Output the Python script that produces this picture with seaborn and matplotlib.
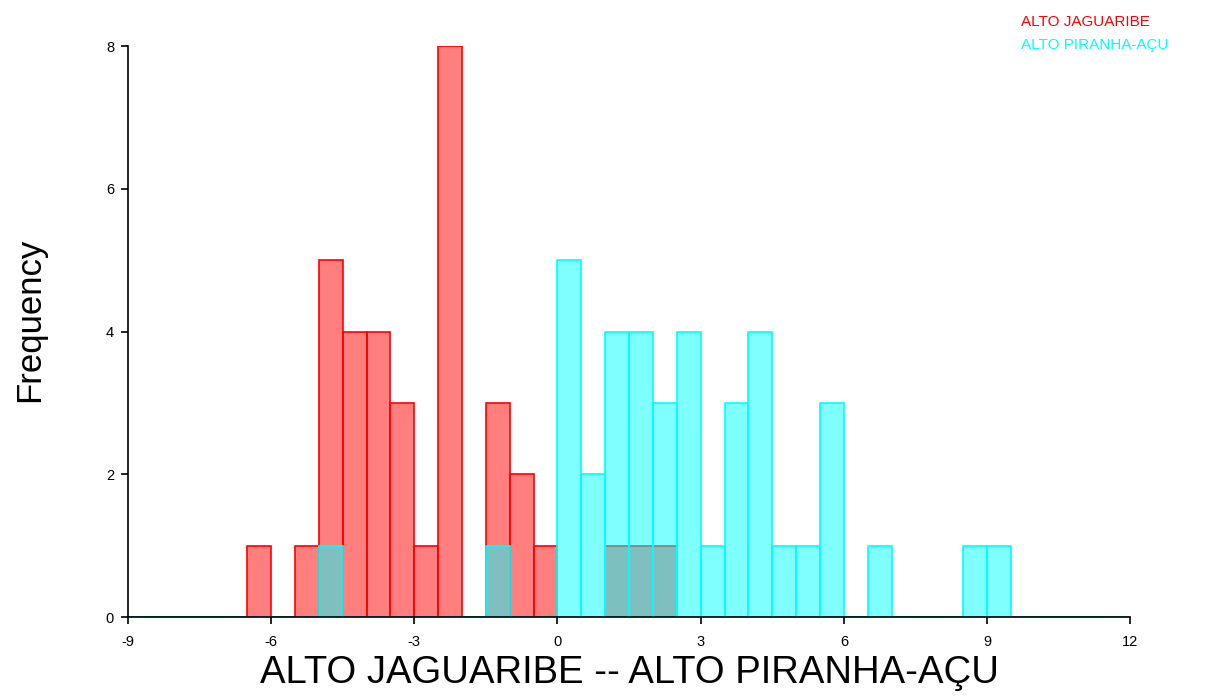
import numpy as np
import pandas as pd
import matplotlib
matplotlib.use("Agg")
import matplotlib.pyplot as plt
import seaborn as sns

# Histogram bins (width 0.5) and counts per group, keyed by bin left edge
bin_width = 0.5
bin_range = (-9.0, 12.0)

jaguaribe_left = [-6.5, -5.5, -5.0, -4.5, -4.0, -3.5, -3.0, -2.5, -1.5, -1.0, -0.5, 1.0, 1.5, 2.0]
jaguaribe_count = [1, 1, 5, 4, 4, 3, 1, 8, 3, 2, 1, 1, 1, 1]

piranha_left = [-5.0, -1.5, 0.0, 0.5, 1.0, 1.5, 2.0, 2.5, 3.0, 3.5, 4.0, 4.5, 5.0, 5.5, 6.5, 8.5, 9.0]
piranha_count = [1, 1, 5, 2, 4, 4, 3, 4, 1, 3, 4, 1, 1, 3, 1, 1, 1]

group_names = ["ALTO JAGUARIBE", "ALTO PIRANHA-AÇU"]
group_colors = ["#ff0000", "#00ffff"]
x_ticks = [-9, -6, -3, 0, 3, 6, 9, 12]
y_ticks = [0, 2, 4, 6, 8]

sns.set_style("white")
plt.rcParams["font.family"] = ["Liberation Sans", "DejaVu Sans"]
plt.rcParams["axes.unicode_minus"] = False
plt.rcParams["text.color"] = "black"
plt.rcParams["axes.labelcolor"] = "black"
plt.rcParams["xtick.color"] = "black"
plt.rcParams["ytick.color"] = "black"

fig = plt.figure(figsize=(12.18, 6.98), dpi=100)
ax = fig.add_axes([0.105, 0.116, 0.823, 0.818])

for lefts, counts, color in [(jaguaribe_left, jaguaribe_count, group_colors[0]),
                             (piranha_left, piranha_count, group_colors[1])]:
    df = pd.DataFrame({"value": np.asarray(lefts, dtype=float) + bin_width / 2,
                       "count": np.asarray(counts, dtype=float)})
    sns.histplot(data=df, x="value", weights="count", binwidth=bin_width,
                 binrange=bin_range, ax=ax,
                 color=color, alpha=0.5, edgecolor=color, linewidth=1.2)

ax.set_xlim(-9, 12)
ax.set_ylim(0, 8)
ax.set_xticks(x_ticks)
ax.set_yticks(y_ticks)
ax.tick_params(axis="both", direction="out", length=5, width=1.2,
               labelsize=10.5, bottom=True, left=True)
ax.tick_params(axis="x", pad=8)
ax.tick_params(axis="y", pad=5)
for side in ["top", "right"]:
    ax.spines[side].set_visible(False)
for side in ["left", "bottom"]:
    ax.spines[side].set_color("black")
    ax.spines[side].set_linewidth(1.2)

ax.set_xlabel("ALTO JAGUARIBE -- ALTO PIRANHA-AÇU", fontsize=27.5, labelpad=4)
ax.set_ylabel("Frequency", fontsize=25)
ax.yaxis.set_label_coords(-0.082, 0.52)

fig.text(0.838, 0.968, group_names[0], color=group_colors[0], fontsize=11,
         ha="left", va="center")
fig.text(0.838, 0.936, group_names[1], color=group_colors[1], fontsize=11,
         ha="left", va="center")

fig.savefig("out.png", dpi=100, facecolor="white")
